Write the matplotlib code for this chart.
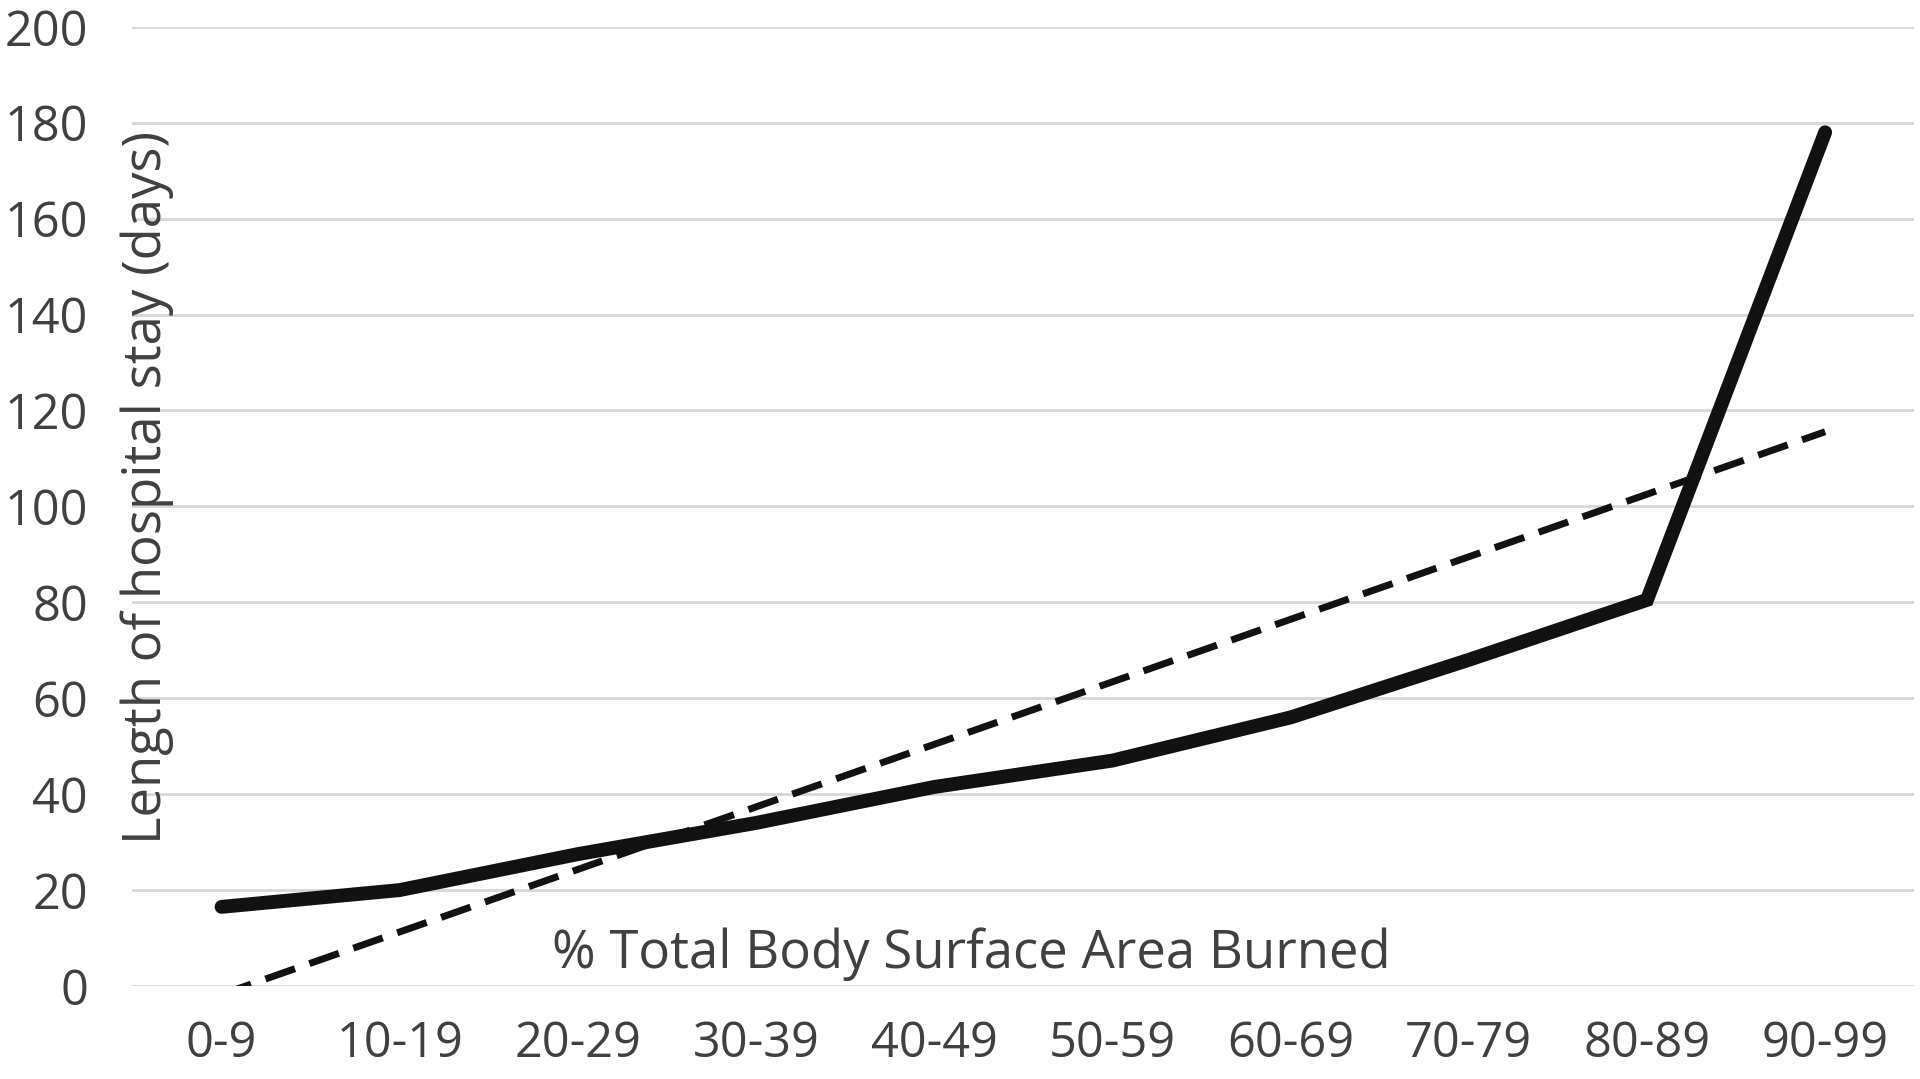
import matplotlib.pyplot as plt
import numpy as np

# burn size groups (% TBSA) and mean length of stay in days
categories = ['0-9', '10-19', '20-29', '30-39', '40-49', '50-59',
              '60-69', '70-79', '80-89', '90-99']
stay_days = [16.5, 20, 27.5, 34, 41.5, 47, 56, 68, 80.5, 178]
y_ticks = [0, 20, 40, 60, 80, 100, 120, 140, 160, 180, 200]

plt.rcParams['font.family'] = ['Open Sans', 'DejaVu Sans']
text_color = '#404040'

x = np.arange(len(categories))

# linear trendline through the data (as in a spreadsheet chart)
slope, intercept = np.polyfit(x, stay_days, 1)
trend = slope * x + intercept

fig = plt.figure(figsize=(19.2, 10.79), dpi=100)
ax = fig.add_axes([0.069, 0.0862, 0.928, 0.889])

for t in y_ticks:
    ax.axhline(t, color='#d9d9d9', linewidth=2.2, zorder=0)

ax.plot(x, stay_days, color='#111111', linewidth=10, solid_capstyle='round',
        solid_joinstyle='miter', zorder=3)
ax.plot(x, trend, color='#111111', linewidth=5, linestyle=(0, (4.5, 2.2)),
        zorder=2)

ax.set_xlim(-0.5, len(categories) - 0.5)
ax.set_ylim(0, 200)
ax.set_xticks(x)
ax.set_xticklabels(categories)
ax.set_yticks(y_ticks)
ax.tick_params(axis='both', length=0, labelsize=35, colors=text_color)
ax.tick_params(axis='x', pad=24)
ax.tick_params(axis='y', pad=32)
for s in ax.spines.values():
    s.set_visible(False)

# axis titles sit inside the plot area, as in the original
fig.text(0.0765, 0.548, 'Length of hospital stay (days)', rotation=90,
         ha='center', va='center', fontsize=38, color=text_color)
fig.text(0.506, 0.116, '% Total Body Surface Area Burned',
         ha='center', va='center', fontsize=38, color=text_color)

fig.savefig('out.png', dpi=100)
